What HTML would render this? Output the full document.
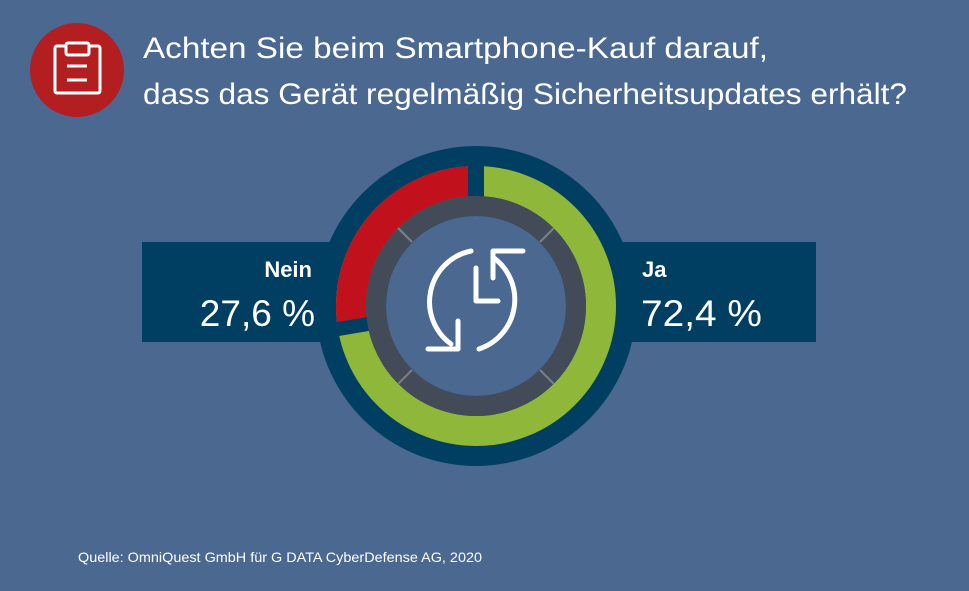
<!DOCTYPE html>
<html><head><meta charset="utf-8"><style>
html,body{margin:0;padding:0;}
body{width:969px;height:591px;background:#4a6890;overflow:hidden;font-family:"Liberation Sans",sans-serif;}
</style></head><body>
<svg width="969" height="591" viewBox="0 0 969 591" xmlns="http://www.w3.org/2000/svg" style="position:absolute;left:0;top:0">
<rect width="969" height="591" fill="#4a6890"/>
<circle cx="77" cy="70" r="47" fill="#b31f21"/>
<g fill="none" stroke="#fff" stroke-width="3" stroke-linejoin="round">
<rect x="55" y="46" width="45" height="47" rx="2"/>
<rect x="66" y="43" width="23" height="12" rx="2" fill="#b31f21"/>
<line x1="67" y1="66" x2="87" y2="66"/><line x1="67" y1="80" x2="87" y2="80"/>
</g>
<text x="143" y="58" fill="#fff" font-size="30" textLength="625" lengthAdjust="spacingAndGlyphs">Achten Sie beim Smartphone-Kauf darauf,</text>
<text x="143" y="104" fill="#fff" font-size="30" textLength="764" lengthAdjust="spacingAndGlyphs">dass das Gerät regelmäßig Sicherheitsupdates erhält?</text>
<rect x="142" y="242" width="200" height="100" fill="#003f62"/>
<rect x="610" y="242" width="206" height="100" fill="#003f62"/>
<circle cx="476" cy="306" r="160" fill="#003f62"/>
<circle cx="476" cy="306" r="125" fill="none" stroke="#8fb83b" stroke-width="30"/>
<path d="M476 181 A125 125 0 0 0 352.7 326.5" fill="none" stroke="#c0111c" stroke-width="30"/>
<line x1="476" y1="306" x2="476" y2="160" stroke="#003f62" stroke-width="16"/>
<line x1="476" y1="306" x2="334" y2="329.7" stroke="#003f62" stroke-width="14"/>
<circle cx="476" cy="306" r="100" fill="none" stroke="#434b58" stroke-width="20"/>
<g stroke="#7a808a" stroke-width="2">
<line x1="398" y1="228" x2="412" y2="242"/><line x1="554" y1="228" x2="540" y2="242"/>
<line x1="398" y1="384" x2="412" y2="370"/><line x1="554" y1="384" x2="540" y2="370"/>
</g>
<circle cx="476" cy="306" r="90" fill="#4a6890"/>
<g fill="none" stroke="#fff" stroke-width="5" stroke-linecap="round" stroke-linejoin="round">
<path d="M471 251 A52 52 0 0 0 451 344"/>
<path d="M428 349 L458 349 L458 321"/>
<path d="M494 258 A52 52 0 0 1 479 349"/>
<path d="M523 251 L493 251 L493 278"/>
<path d="M476 268 L476 301 L498 301"/>
</g>
<text x="312" y="277" fill="#fff" font-size="22" font-weight="bold" text-anchor="end">Nein</text>
<text x="315" y="326" fill="#fff" font-size="37" text-anchor="end">27,6 %</text>
<text x="642" y="277" fill="#fff" font-size="22" font-weight="bold">Ja</text>
<text x="641" y="326" fill="#fff" font-size="37" textLength="121" lengthAdjust="spacingAndGlyphs">72,4 %</text>
<text x="78" y="562" fill="#fff" font-size="14" textLength="404" lengthAdjust="spacingAndGlyphs">Quelle: OmniQuest GmbH für G DATA CyberDefense AG, 2020</text>
</svg>
</body></html>
